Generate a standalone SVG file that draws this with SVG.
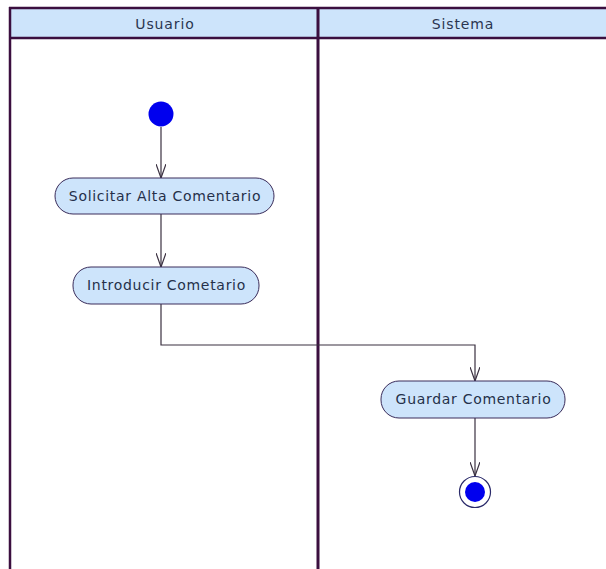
<svg xmlns="http://www.w3.org/2000/svg" width="606" height="569" viewBox="0 0 606 569">
  <style>
    .lane-head { fill: #cde4fb; stroke: none; }
    .lane-line { stroke: #3b0f3f; fill: none; }
    .lane-title { font-family: "DejaVu Sans", "Verdana", sans-serif; font-size: 14px; letter-spacing: 0.9px; fill: #2a3550; text-anchor: middle; }
    .action rect { fill: #cde4fb; stroke: #3a2c5a; stroke-width: 1; }
    .action text { font-family: "DejaVu Sans", "Verdana", sans-serif; font-size: 14px; letter-spacing: 0.7px; fill: #25304a; text-anchor: middle; }
    .edge { stroke: #3a3040; stroke-width: 1.2; fill: none; marker-end: url(#open); }
    .dot { fill: #0000ee; }
  </style>
  <defs>
    <!-- open V arrowhead, drawn pointing along +x -->
    <marker id="open" viewBox="0 0 14 10" refX="14" refY="5" markerWidth="14" markerHeight="10" markerUnits="userSpaceOnUse" orient="auto">
      <path d="M0,0 L14,5 L0,10" fill="none" stroke="#3a3040" stroke-width="1.2"/>
    </marker>
  </defs>
  <rect width="606" height="569" fill="#ffffff"/>

  <!-- swimlanes -->
  <g id="lanes">
    <rect class="lane-head" x="10" y="8" width="596" height="30"/>
    <line class="lane-line" x1="9" y1="8" x2="606" y2="8" stroke-width="2.5"/>
    <line class="lane-line" x1="9" y1="38" x2="606" y2="38" stroke-width="2.5"/>
    <line class="lane-line" x1="10" y1="7" x2="10" y2="569" stroke-width="2.5"/>
    <line class="lane-line" x1="318" y1="7" x2="318" y2="569" stroke-width="3"/>
    <text class="lane-title" x="165" y="29">Usuario</text>
    <text class="lane-title" x="463" y="29">Sistema</text>
  </g>

  <!-- connectors -->
  <g id="edges">
    <path class="edge" d="M161,127 L161,178"/>
    <path class="edge" d="M161,214 L161,267"/>
    <path class="edge" d="M161,304 L161,345 L475,345 L475,381"/>
    <path class="edge" d="M475,418 L475,476"/>
  </g>

  <!-- nodes -->
  <g id="start">
    <circle class="dot" cx="161" cy="114" r="12.5"/>
  </g>
  <g id="solicitar" class="action">
    <rect x="55" y="178" width="219" height="36" rx="18" ry="18"/>
    <text x="165" y="201">Solicitar Alta Comentario</text>
  </g>
  <g id="introducir" class="action">
    <rect x="73" y="267" width="186" height="37" rx="18" ry="18"/>
    <text x="166.5" y="290">Introducir Cometario</text>
  </g>
  <g id="guardar" class="action">
    <rect x="381" y="381" width="184" height="37" rx="18" ry="18"/>
    <text x="473.5" y="404">Guardar Comentario</text>
  </g>
  <g id="end">
    <circle cx="475" cy="492" r="15.5" fill="#ffffff" stroke="#2a2a6a" stroke-width="1.2"/>
    <circle class="dot" cx="475" cy="492" r="10"/>
  </g>
</svg>
